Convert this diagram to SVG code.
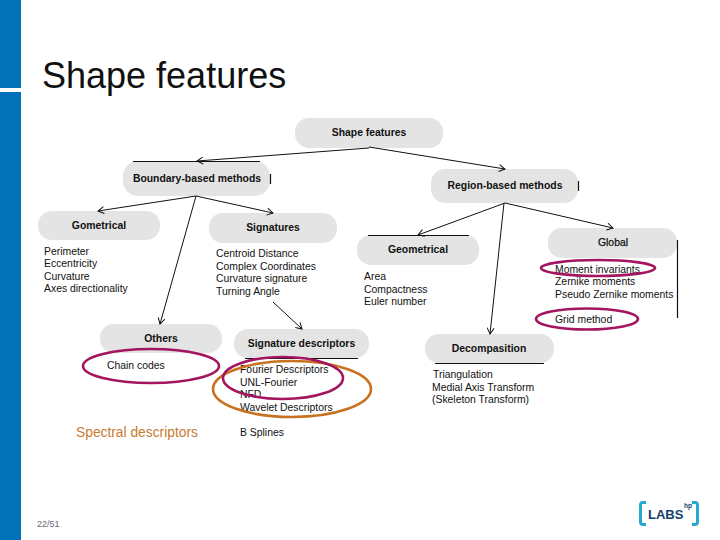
<svg xmlns="http://www.w3.org/2000/svg" width="720" height="540" viewBox="0 0 720 540">
<style>
text{font-family:"Liberation Sans",Arial,sans-serif;fill:#111}
.n{fill:#e4e4e4}
.h{font-size:10.4px;font-weight:bold;text-anchor:middle}
.l{font-size:10.4px}
.c line{stroke:#111;stroke-width:1;marker-end:url(#a)}
.e{fill:none;stroke-width:2.6}
.m{stroke:#a3155f}
.o{stroke:#c8711f}
.k{stroke:#111;stroke-width:1.2;fill:none}
</style>
<defs><marker id="a" markerWidth="8" markerHeight="8" refX="7" refY="4" orient="auto" markerUnits="userSpaceOnUse"><path d="M1 0.5L7 4L1 7.5" fill="none" stroke="#111" stroke-width="1"/></marker></defs>
<rect width="720" height="540" fill="#fff"/>
<rect width="21" height="540" fill="#0472b8"/>
<rect y="88" width="21" height="4" fill="#fff"/>
<text x="42" y="88" style="font-size:36px">Shape features</text>
<g id="n-shape"><rect class="n" x="295" y="118" width="148" height="30" rx="14"/><text class="h" x="369" y="136">Shape features</text></g>
<g id="n-boundary"><rect class="n" x="123" y="161" width="147" height="35" rx="15"/><path class="k" d="M133 161.500H260M270.500 174V184"/><text class="h" x="197" y="182">Boundary-based methods</text></g>
<g id="n-region"><rect class="n" x="431" y="169" width="147" height="34" rx="14"/><path class="k" d="M578.500 181V191"/><text class="h" x="505" y="189">Region-based methods</text></g>
<g id="n-gometrical"><rect class="n" x="38" y="211" width="122" height="29" rx="14"/><text class="h" x="99" y="229">Gometrical</text>
<text class="l" x="44" y="255">Perimeter</text><text class="l" x="44" y="267">Eccentricity</text><text class="l" x="44" y="280">Curvature</text><text class="l" x="44" y="292">Axes directionality</text></g>
<g id="n-signatures"><rect class="n" x="209" y="213" width="128" height="30" rx="14"/><text class="h" x="273" y="231">Signatures</text>
<text class="l" x="216" y="257">Centroid Distance</text><text class="l" x="216" y="270">Complex Coordinates</text><text class="l" x="216" y="282">Curvature signature</text><text class="l" x="216" y="295">Turning Angle</text></g>
<g id="n-geometrical"><rect class="n" x="357" y="235" width="122" height="30" rx="14"/><path class="k" d="M368 235.500H469"/><text class="h" x="418" y="253">Geometrical</text>
<text class="l" x="364" y="280">Area</text><text class="l" x="364" y="293">Compactness</text><text class="l" x="364" y="305">Euler number</text></g>
<g id="n-global"><rect class="n" x="548" y="228" width="129" height="30" rx="14"/><path class="k" d="M677.500 240V318"/><text class="h" x="613" y="246" style="font-weight:normal;stroke:#111;stroke-width:.25px">Global</text>
<text class="l" x="555" y="273">Moment invariants</text><text class="l" x="555" y="285">Zernike moments</text><text class="l" x="555" y="298">Pseudo Zernike moments</text><text class="l" x="555" y="323">Grid method</text></g>
<g id="n-others"><rect class="n" x="100" y="324" width="122" height="29" rx="14"/><text class="h" x="161" y="342">Others</text>
<text class="l" x="107" y="369">Chain codes</text></g>
<g id="n-sigdesc"><rect class="n" x="234" y="329" width="135" height="29" rx="14"/><path class="k" d="M245 358.500H358"/><text class="h" x="301.500" y="347">Signature descriptors</text>
<text class="l" x="240" y="373">Fourier Descriptors</text><text class="l" x="240" y="386">UNL-Fourier</text><text class="l" x="240" y="398">NFD</text><text class="l" x="240" y="411">Wavelet Descriptors</text><text class="l" x="240" y="436">B Splines</text></g>
<g id="n-decomposition"><rect class="n" x="425" y="334" width="129" height="29" rx="14"/><path class="k" d="M435 363.500H544"/><text class="h" x="489" y="352">Decompasition</text>
<text class="l" x="433" y="378">Triangulation</text><text class="l" x="432" y="391">Medial Axis Transform</text><text class="l" x="432" y="403">(Skeleton Transform)</text></g>
<g id="connectors" class="c">
<line x1="369" y1="148" x2="197" y2="161"/><line x1="369" y1="147" x2="505" y2="169"/>
<line x1="196" y1="196" x2="98" y2="211"/><line x1="196" y1="196" x2="160" y2="324"/><line x1="196" y1="196" x2="273" y2="213"/>
<line x1="505" y1="203" x2="418" y2="235"/><line x1="504" y1="203" x2="490" y2="334"/><line x1="505" y1="203" x2="613" y2="228"/>
<line x1="273" y1="302" x2="302" y2="329"/>
</g>
<g id="highlights">
<ellipse class="e m" cx="598" cy="268" rx="57" ry="8"/><ellipse class="e m" cx="587" cy="319" rx="51" ry="10.500"/>
<ellipse class="e m" cx="151" cy="366" rx="68" ry="17"/><ellipse class="e o" cx="292" cy="389" rx="79" ry="28"/><ellipse class="e m" cx="283" cy="378" rx="60" ry="21"/>
</g>
<text x="76" y="437" style="font-size:13.800px;fill:#c87a30">Spectral descriptors</text>
<text x="37" y="527" style="font-size:9px;fill:#667">22/51</text>
<g id="logo">
<path d="M646 502.500H643Q640.500 502.500 640.500 505V522Q640.500 524.500 643 524.500H646M692 502.500H695Q697.500 502.500 697.500 505V522Q697.500 524.500 695 524.500H692" fill="none" stroke="#25a9cf" stroke-width="3"/>
<text x="648" y="519" style="font-size:13px;font-weight:bold;fill:#123f6d">LABS</text><text x="684" y="508" style="font-size:6.500px;font-weight:bold;fill:#123f6d">hp</text>
</g>
</svg>
